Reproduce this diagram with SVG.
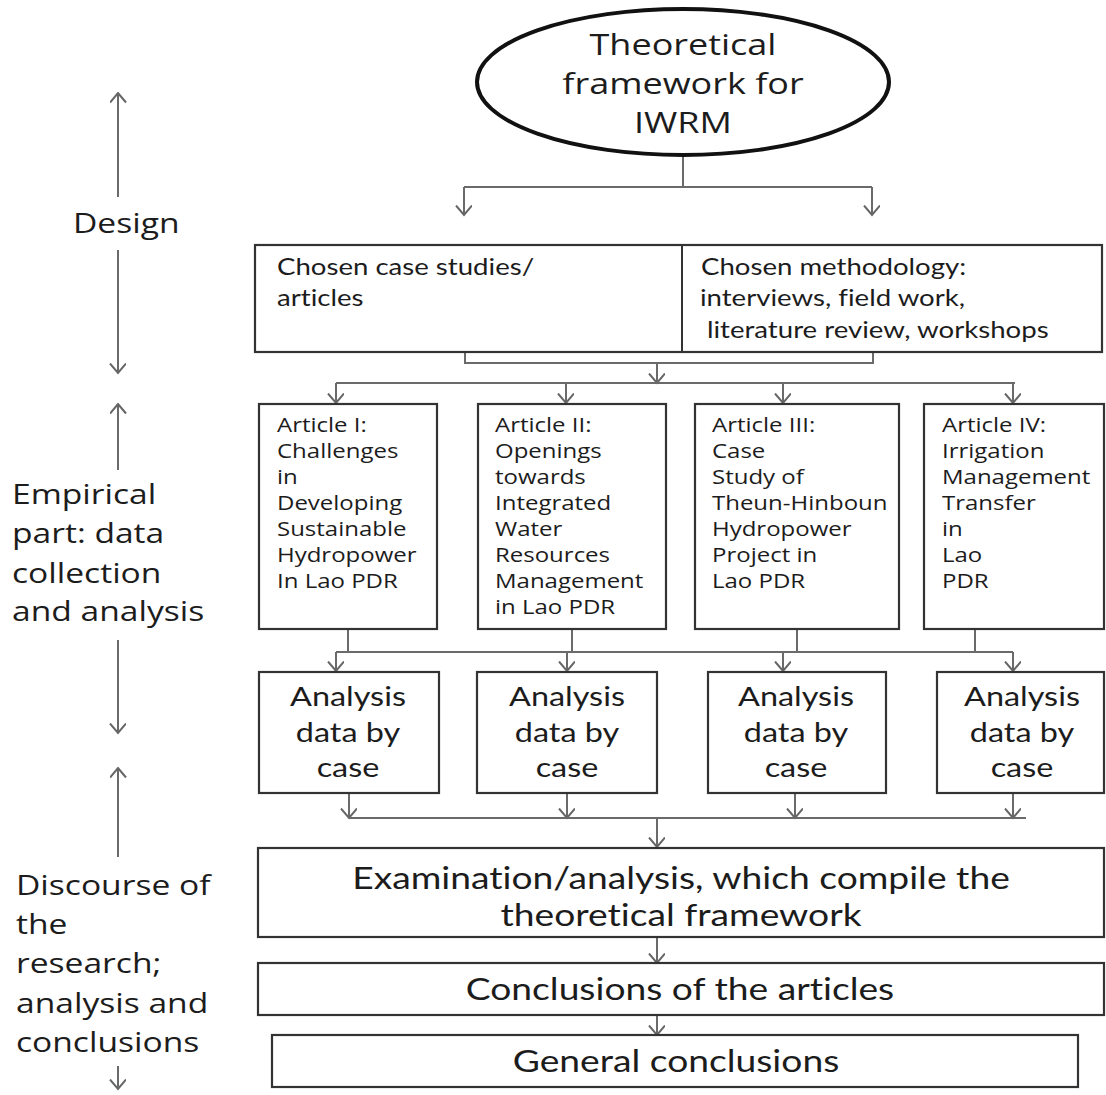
<svg xmlns="http://www.w3.org/2000/svg" width="1106" height="1095" viewBox="0 0 1106 1095">
<defs>
<marker id="arr" viewBox="0 0 12 18" refX="10.5" refY="8" markerWidth="12" markerHeight="18" markerUnits="userSpaceOnUse" orient="auto">
<path d="M1,0 L10.5,8 L1,16" fill="none" stroke="#666" stroke-width="2"/>
</marker>
<style>
.box{fill:#fff;stroke:#333;stroke-width:2.2}
.con{fill:none;stroke:#6a6a6a;stroke-width:2}
.arw{fill:none;stroke:#6a6a6a;stroke-width:2;marker-end:url(#arr)}
.t{fill:#1c1c1c;font-variant-ligatures:none}
.os{font-family:"Open Sans","DejaVu Sans",sans-serif}
.la{font-family:Lato,"Liberation Sans",sans-serif}
.mid{text-anchor:middle}
</style>
</defs>
<rect width="1106" height="1095" fill="#fff"/>

<g id="connectors">
<line class="con" x1="683" y1="155" x2="683" y2="187"/>
<polyline class="con" points="464,187 872,187"/>
<line class="arw" x1="464" y1="187" x2="464" y2="215"/>
<line class="arw" x1="872" y1="187" x2="872" y2="215"/>
<polyline class="con" points="465,352 465,363 873,363 873,352"/>
<line class="arw" x1="657" y1="363" x2="657" y2="383"/>
<line class="con" x1="336" y1="383" x2="1015" y2="383"/>
<line class="arw" x1="336" y1="383" x2="336" y2="403"/>
<line class="arw" x1="566" y1="383" x2="566" y2="403"/>
<line class="arw" x1="783" y1="383" x2="783" y2="403"/>
<line class="arw" x1="1013" y1="383" x2="1013" y2="403"/>
<line class="con" x1="348" y1="629" x2="348" y2="652"/>
<line class="con" x1="572" y1="629" x2="572" y2="652"/>
<line class="con" x1="797" y1="629" x2="797" y2="652"/>
<line class="con" x1="975" y1="629" x2="975" y2="652"/>
<line class="con" x1="336" y1="652" x2="1013" y2="652"/>
<line class="arw" x1="336" y1="652" x2="336" y2="671"/>
<line class="arw" x1="567" y1="652" x2="567" y2="671"/>
<line class="arw" x1="783" y1="652" x2="783" y2="671"/>
<line class="arw" x1="1013" y1="652" x2="1013" y2="671"/>
<line class="arw" x1="349" y1="793" x2="349" y2="818"/>
<line class="arw" x1="567" y1="793" x2="567" y2="818"/>
<line class="arw" x1="795" y1="793" x2="795" y2="818"/>
<line class="arw" x1="1013" y1="793" x2="1013" y2="818"/>
<line class="con" x1="349" y1="818" x2="1026" y2="818"/>
<line class="arw" x1="657" y1="818" x2="657" y2="847"/>
<line class="arw" x1="657" y1="937" x2="657" y2="963"/>
<line class="arw" x1="657" y1="1015" x2="657" y2="1035"/>
<line class="arw" x1="118" y1="197" x2="118" y2="93"/>
<line class="arw" x1="118" y1="250" x2="118" y2="373"/>
<line class="arw" x1="118" y1="470" x2="118" y2="404"/>
<line class="arw" x1="118" y1="640" x2="118" y2="733"/>
<line class="arw" x1="118" y1="857" x2="118" y2="768"/>
<line class="arw" x1="118" y1="1066" x2="118" y2="1089"/>
</g>

<g id="framework">
<ellipse cx="683" cy="82" rx="206" ry="73" fill="#fff" stroke="#111" stroke-width="4"/>
</g>
<g id="casebox">
<rect class="box" x="255" y="245" width="847" height="107"/>
<line x1="682" y1="245" x2="682" y2="352" stroke="#333" stroke-width="2"/>
</g>
<g id="article1"><rect class="box" x="259" y="404" width="178" height="225"/></g>
<g id="article2"><rect class="box" x="478" y="404" width="188" height="225"/></g>
<g id="article3"><rect class="box" x="695" y="404" width="204" height="225"/></g>
<g id="article4"><rect class="box" x="924" y="404" width="180" height="225"/></g>
<g id="analysis1"><rect class="box" x="259" y="672" width="180" height="121"/></g>
<g id="analysis2"><rect class="box" x="477" y="672" width="180" height="121"/></g>
<g id="analysis3"><rect class="box" x="708" y="672" width="178" height="121"/></g>
<g id="analysis4"><rect class="box" x="937" y="672" width="167" height="121"/></g>
<g id="examination"><rect class="box" x="258" y="848" width="846" height="89"/></g>
<g id="conclusions-articles"><rect class="box" x="258" y="963" width="846" height="52"/></g>
<g id="general-conclusions"><rect class="box" x="272" y="1035" width="806" height="52"/></g>

<g id="labels" transform="scale(1.2,1)" class="t">
<g class="os mid" font-size="30">
<text x="569.17" y="55">Theoretical</text>
<text x="569.17" y="94">framework for</text>
<text x="569.17" y="133">IWRM</text>
</g>
<g class="os" font-size="28">
<text x="60.83" y="233">Design</text>
<text x="10" y="504">Empirical</text>
<text x="10" y="543">part: data</text>
<text x="10" y="583">collection</text>
<text x="10" y="621">and analysis</text>
<text x="13.33" y="895">Discourse of</text>
<text x="13.33" y="934">the</text>
<text x="13.33" y="973">research;</text>
<text x="13.33" y="1013">analysis and</text>
<text x="13.33" y="1052">conclusions</text>
</g>
<g class="la" font-size="23">
<text x="230.83" y="275">Chosen case studies/</text>
<text x="230.83" y="306">articles</text>
<text x="584.17" y="275">Chosen methodology:</text>
<text x="583.33" y="306">interviews, field work,</text>
<text x="589.17" y="338">literature review, workshops</text>
</g>
<g class="os" font-size="20">
<text x="230.83" y="432">Article I:</text>
<text x="230.83" y="458">Challenges</text>
<text x="230.83" y="484">in</text>
<text x="230.83" y="510">Developing</text>
<text x="230.83" y="536">Sustainable</text>
<text x="230.83" y="562">Hydropower</text>
<text x="230.83" y="588">In Lao PDR</text>
<text x="412.5" y="432">Article II:</text>
<text x="412.5" y="458">Openings</text>
<text x="412.5" y="484">towards</text>
<text x="412.5" y="510">Integrated</text>
<text x="412.5" y="536">Water</text>
<text x="412.5" y="562">Resources</text>
<text x="412.5" y="588">Management</text>
<text x="412.5" y="614">in Lao PDR</text>
<text x="593.33" y="432">Article III:</text>
<text x="593.33" y="458">Case</text>
<text x="593.33" y="484">Study of</text>
<text x="593.33" y="510">Theun-Hinboun</text>
<text x="593.33" y="536">Hydropower</text>
<text x="593.33" y="562">Project in</text>
<text x="593.33" y="588">Lao PDR</text>
<text x="785" y="432">Article IV:</text>
<text x="785" y="458">Irrigation</text>
<text x="785" y="484">Management</text>
<text x="785" y="510">Transfer</text>
<text x="785" y="536">in</text>
<text x="785" y="562">Lao</text>
<text x="785" y="588">PDR</text>
</g>
<g class="la mid" font-size="27">
<text x="290" y="706">Analysis</text>
<text x="290" y="742">data by</text>
<text x="290" y="777">case</text>
<text x="472.5" y="706">Analysis</text>
<text x="472.5" y="742">data by</text>
<text x="472.5" y="777">case</text>
<text x="663.33" y="706">Analysis</text>
<text x="663.33" y="742">data by</text>
<text x="663.33" y="777">case</text>
<text x="851.67" y="706">Analysis</text>
<text x="851.67" y="742">data by</text>
<text x="851.67" y="777">case</text>
</g>
<g class="la mid" font-size="31">
<text x="567.5" y="889">Examination/analysis, which compile the</text>
<text x="567.5" y="926">theoretical framework</text>
<text x="566.67" y="1000">Conclusions of the articles</text>
<text x="563.33" y="1072">General conclusions</text>
</g>
</g>
</svg>
